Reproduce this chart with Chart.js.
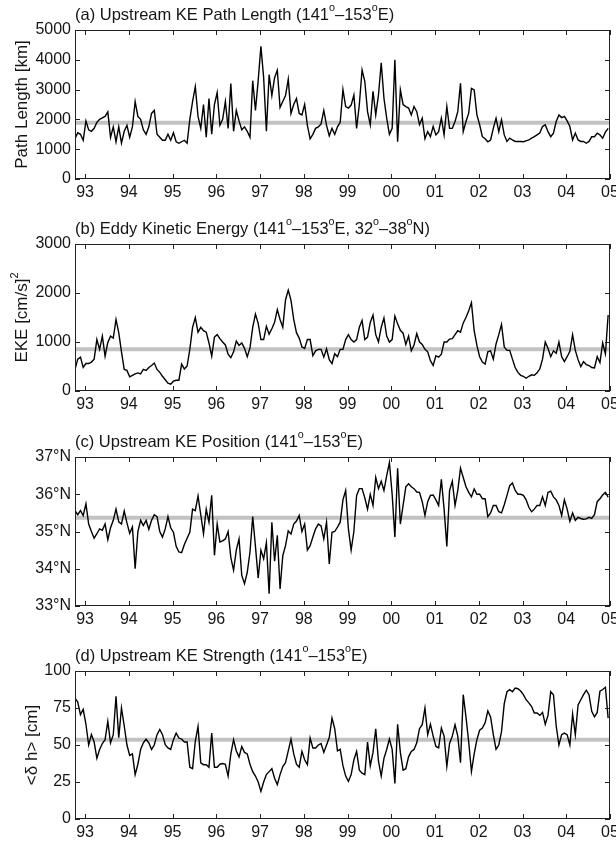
<!DOCTYPE html>
<html>
<head>
<meta charset="utf-8">
<script src="https://cdn.jsdelivr.net/npm/chart.js@4.4.1/dist/chart.umd.min.js"></script>
<style>
  body { margin: 0; background: #fff; width: 616px; height: 845px; overflow: hidden; position: relative; }
  canvas { position: absolute; left: 0; }
</style>
</head>
<body>
<canvas id="panelA" width="616" height="214" style="top:0px"></canvas>
<canvas id="panelB" width="616" height="213" style="top:214px"></canvas>
<canvas id="panelC" width="616" height="214" style="top:427px"></canvas>
<canvas id="panelD" width="616" height="204" style="top:641px"></canvas>
<script>
// time axis: samples every 1/16 year starting late 1992
const tStart = 1992.77
const tStep = 1 / 16
const xMin = 1992.77
const xMax = 2005.0

const yearTicks = [1993, 1994, 1995, 1996, 1997, 1998, 1999, 2000, 2001, 2002, 2003, 2004, 2005]
const yearLabels = ['93', '94', '95', '96', '97', '98', '99', '00', '01', '02', '03', '04', '05']

// (a) path length [km]
const pathLength = [
  1350, 1550, 1500, 1300, 1950, 1650, 1600, 1700, 1900, 2000, 2050, 2100, 2250, 1400, 1750, 1250,
  1750, 1200, 1600, 1800, 1400, 1750, 2600, 2100, 2000, 1650, 1500, 1750, 2200, 2300, 1500, 1400,
  1300, 1300, 1500, 1300, 1550, 1250, 1200, 1250, 1300, 1200, 2000, 2600, 3100, 2100, 1700, 2500,
  1400, 2700, 1500, 2500, 2900, 1800, 2000, 2600, 1700, 3200, 1600, 2300, 1950, 1650, 1750, 1600,
  1400, 3300, 2300, 3300, 4450, 3400, 1600, 3500, 2800, 3400, 3650, 2400, 2600, 2800, 3350, 2200,
  2500, 2700, 2200, 2150, 2500, 1800, 1350, 1500, 1700, 1750, 1850, 2300, 1800, 1450, 1700, 1500,
  1750, 1900,
  3000, 2430, 2380, 2480, 2820, 1700, 2500, 3660, 3270, 2260, 1820, 2940, 2150, 2820,
  3900, 2710, 2040, 1500, 1700, 4000, 1250, 2990, 2500, 2430, 2380, 2150, 2430, 2260, 1820, 2040,
  1350, 1590, 1420, 1760, 1480, 1590, 2040, 1480, 2430, 1700, 1700, 1930, 2260, 3210, 1590, 1930,
  2210, 3040, 2990, 2150, 1820, 1420, 1350, 1250, 1310, 1700, 2040, 1590, 1990, 1480, 1260, 1370,
  1310, 1260, 1260, 1260, 1250, 1280, 1310, 1370, 1420, 1480, 1540, 1760, 1820, 1590, 1420, 1540,
  1930, 2150, 2060, 2100, 1950, 1760, 1310, 1540, 1310, 1260, 1260, 1200, 1260, 1420, 1420, 1540,
  1480, 1370, 1570, 1700
]
const pathMean = 1890
const pathTicks = [0, 1000, 2000, 3000, 4000, 5000]

// (b) eddy kinetic energy [(cm/s)^2]
const eke = [
  440, 650, 690, 480, 560, 560, 590, 650, 1050, 850, 1120, 710, 990, 1120, 1080, 1460,
  1190, 800, 440, 420, 290, 320, 350, 370, 350, 440, 420, 480, 520, 570, 440, 380,
  300, 230, 160, 140, 200, 220, 220, 550, 450, 510, 850, 1300, 1500, 1200, 1300, 1230,
  1200, 980, 710, 1100, 1150, 1070, 1000, 940, 750, 680, 800, 1020, 930, 980, 870, 700,
  880, 1300, 1570, 1380, 1050, 1050, 1320, 1160, 1270, 1400, 1660, 1460, 1300, 1860, 2060, 1850,
  1460, 1190, 1080, 900, 870, 1050, 1050, 720, 820, 850, 850, 690, 860, 640, 560, 760,
  700, 850,
  850, 1050, 1150, 1050, 1000, 1050, 1300, 1440, 1050, 1100, 1400, 1550, 1150, 1000,
  1300, 1490, 1120, 1000, 1050, 1530, 1370, 1240, 1180, 950, 1120, 820, 940, 1170, 1000, 950,
  850, 800, 620, 520, 720, 690, 750, 1000, 1000, 1060, 1070, 1150, 1230, 1200, 1390, 1500,
  1640, 1800, 1230, 930, 700, 590, 550, 800, 820, 650, 960, 1150, 1360, 900, 830, 830,
  650, 480, 380, 320, 300, 260, 300, 330, 320, 370, 450, 650, 1000, 870, 700, 820,
  770, 1000, 700, 600, 700, 810, 1150, 830, 640, 500, 600, 540, 520, 480, 470, 700,
  580, 980, 760, 1550
]
const ekeMean = 850
const ekeTicks = [0, 1000, 2000, 3000]

// (c) upstream KE latitude [deg N]
const position = [
  35.56, 35.45, 35.56, 35.43, 35.74, 35.2, 35.0, 34.82, 34.94, 35.07, 35.03, 35.2, 34.78, 35.1, 35.3, 35.6,
  35.26, 35.2, 35.55, 35.23, 34.95, 35.12, 34.0, 35.0, 35.3, 35.16, 35.3, 35.06, 35.3, 35.45, 35.4, 35.0,
  34.85, 35.07, 35.4, 35.1, 34.98, 34.6, 34.45, 34.43, 34.65, 34.82, 34.98, 35.6, 35.56, 35.95, 35.45, 34.94,
  35.6, 35.25, 35.97, 34.36, 35.2, 34.72, 34.75, 34.8, 35.0, 34.3, 33.96, 34.5, 34.8, 33.82, 33.6, 33.9,
  34.45, 35.4, 34.6, 33.75, 34.5, 34.27, 34.7, 33.33, 35.25, 34.2, 34.9, 33.46, 34.35, 34.62, 35.02, 34.93,
  35.2, 35.28, 35.43, 35.0, 35.2, 34.5, 34.62, 34.85, 35.07, 35.2, 35.15, 34.8, 35.25, 34.13, 34.98, 35.0,
  35.12, 35.25,
  35.85, 36.1, 35.07, 34.5, 35.0, 35.97, 36.15, 36.15, 35.9, 35.6, 36.0, 35.7, 36.45, 36.15,
  36.35, 36.1, 36.5, 36.85, 36.0, 34.85, 36.7, 35.2, 35.7, 36.2, 36.28, 36.2, 36.15, 36.06, 36.05, 35.8,
  35.43, 35.8, 35.97, 35.98, 35.85, 35.7, 36.4, 35.6, 34.6, 36.1, 36.35, 35.7, 36.1, 36.7, 36.45, 36.2,
  36.05, 35.93, 36.14, 36.0, 36.0, 35.88, 35.88, 35.4, 35.5, 35.7, 35.7, 35.53, 35.5, 35.72, 35.97, 36.23,
  36.3, 36.1, 36.0, 36.0, 35.97, 35.85, 35.65, 35.53, 35.6, 35.7, 35.7, 35.93, 35.7, 36.05, 36.08, 35.93,
  35.85, 35.7, 35.43, 35.85, 35.6, 35.27, 35.5, 35.3, 35.38, 35.35, 35.33, 35.34, 35.38, 35.35, 35.45, 35.8,
  35.88, 35.98, 36.05, 35.92
]
const positionMean = 35.37
const latTicks = [33, 34, 35, 36, 37]
const latLabels = ['33°N', '34°N', '35°N', '36°N', '37°N']

// (d) upstream KE strength [cm]
const strength = [
  81.7, 79, 70.5, 74, 64, 50, 57, 52, 41, 47, 51, 53.6, 66, 51.5, 57, 82.9,
  55, 75, 63, 50, 43, 44, 30, 37, 47, 51.5, 54, 51.5, 47, 50, 57, 60.5,
  57, 50.2, 48, 47, 53.6, 58, 54.7, 54, 52, 52, 35, 34, 52.5, 62.5, 38, 36.7,
  36.7, 35, 58, 35, 35, 37, 37.5, 37, 29, 44, 53.6, 46, 42, 49, 45, 44,
  37, 32, 29, 25, 18.7, 25, 30, 32, 34, 27.5, 23.2, 30, 35.5, 38, 46, 54,
  44, 37, 35, 45.7, 40, 36.7, 54.7, 48, 48, 50, 51, 45, 50, 55, 68.2, 61,
  46, 47,
  36, 29, 25.4, 30, 40, 45.7, 33, 31, 30, 52, 36, 45, 61, 39,
  29, 41, 47, 54, 47, 24, 64, 45, 33, 34, 42, 45.7, 47, 51.5, 61, 63.7,
  75, 57, 64, 56, 49, 48, 61.5, 56, 35.6, 51, 56, 63.7, 56, 38, 84, 69,
  52, 32, 44, 53.6, 60, 61.5, 65, 73, 69, 57, 47, 50, 59, 78, 86, 87.4,
  86, 88.5, 88, 86.5, 84, 80.6, 78.5, 76, 71.6, 71.6, 70, 72, 64, 70, 86, 84,
  63, 50, 57, 58, 57, 50, 71, 57, 77, 80.6, 84, 87, 84, 72.7, 69, 72,
  86.3, 87.5, 89, 68.2
]
const strengthMean = 53.6
const strengthTicks = [0, 25, 50, 75, 100]

const FONT = '"Liberation Sans", Arial, Helvetica, sans-serif'
const TEXT = '#151515'

// draw text with raised small pieces (degree "o" and squared "2")
function drawRich (ctx, segs, x, y, size) {
  let cx = x
  for (const s of segs) {
    ctx.font = (s.sup ? size * 0.65 : size) + 'px ' + FONT
    ctx.fillText(s.t, cx, s.sup ? y - size * 0.4 : y)
    cx += ctx.measureText(s.t).width
  }
  return cx - x
}

function richWidth (ctx, segs, size) {
  let w = 0
  for (const s of segs) {
    ctx.font = (s.sup ? size * 0.65 : size) + 'px ' + FONT
    w += ctx.measureText(s.t).width
  }
  return w
}

function framePlugin (title, ylabel, ylabelX) {
  return {
    id: 'frame',
    afterDatasetsDraw (chart) {
      const { ctx, chartArea: a, scales } = chart
      ctx.save()
      ctx.strokeStyle = '#222'
      ctx.lineWidth = 1
      ctx.strokeRect(a.left + 0.5, a.top + 0.5, a.right - a.left - 1, a.bottom - a.top - 1)
      ctx.beginPath()
      for (const v of yearTicks) {
        const px = Math.round(scales.x.getPixelForValue(v)) + 0.5
        ctx.moveTo(px, a.bottom); ctx.lineTo(px, a.bottom - 5)
        ctx.moveTo(px, a.top); ctx.lineTo(px, a.top + 5)
      }
      for (const t of scales.y.ticks) {
        const py = Math.round(scales.y.getPixelForValue(t.value)) + 0.5
        ctx.moveTo(a.left, py); ctx.lineTo(a.left + 5, py)
        ctx.moveTo(a.right, py); ctx.lineTo(a.right - 5, py)
      }
      ctx.stroke()
      ctx.restore()
    },
    afterDraw (chart) {
      const { ctx, chartArea: a } = chart
      ctx.save()
      ctx.fillStyle = TEXT
      ctx.textBaseline = 'middle'
      ctx.textAlign = 'left'
      drawRich(ctx, title, a.left, a.top - 15, 16.5)
      if (ylabel) {
        ctx.translate(ylabelX, (a.top + a.bottom) / 2)
        ctx.rotate(-Math.PI / 2)
        const w = richWidth(ctx, ylabel, 17)
        drawRich(ctx, ylabel, -w / 2, 0, 17)
      }
      ctx.restore()
    }
  }
}

function makePanel (id, values, mean, yMin, yMax, ticks, labels, xHeight, title, ylabel, ylabelX) {
  const pts = values.map((v, i) => ({ x: tStart + i * tStep, y: v }))
  new Chart(document.getElementById(id), {
    type: 'line',
    data: {
      datasets: [
        { data: pts, borderColor: '#000', borderWidth: 1.4, pointRadius: 0, tension: 0, order: 0 },
        { data: [{ x: xMin, y: mean }, { x: xMax, y: mean }], borderColor: '#c2c2c2', borderWidth: 4, pointRadius: 0, order: 1 }
      ]
    },
    options: {
      responsive: false,
      animation: false,
      devicePixelRatio: 1,
      layout: { padding: { top: 30, right: 6, left: 0, bottom: 0 } },
      plugins: { legend: { display: false }, tooltip: { enabled: false } },
      scales: {
        x: {
          type: 'linear',
          min: xMin,
          max: xMax,
          afterBuildTicks: s => { s.ticks = yearTicks.map(v => ({ value: v })) },
          afterFit: s => { s.height = xHeight; s.paddingLeft = 0; s.paddingRight = 0 },
          grid: { display: false, drawTicks: false },
          border: { display: false },
          ticks: {
            autoSkip: false,
            maxRotation: 0,
            padding: 4,
            color: TEXT,
            font: { family: FONT, size: 16 },
            callback: v => labels.x[yearTicks.indexOf(v)]
          }
        },
        y: {
          min: yMin,
          max: yMax,
          afterBuildTicks: s => { s.ticks = ticks.map(v => ({ value: v })) },
          afterFit: s => { s.width = 75; s.paddingTop = 0; s.paddingBottom = 0 },
          grid: { display: false, drawTicks: false },
          border: { display: false },
          ticks: {
            autoSkip: false,
            padding: 4,
            color: TEXT,
            font: { family: FONT, size: 16 },
            callback: v => labels.y[ticks.indexOf(v)]
          }
        }
      }
    },
    plugins: [framePlugin(title, ylabel, ylabelX)]
  })
}

const deg = [{ t: 'o', sup: true }]

makePanel('panelA', pathLength, pathMean, 0, 5000, pathTicks,
  { x: yearLabels, y: pathTicks.map(String) }, 35,
  [{ t: '(a) Upstream KE Path Length (141' }, ...deg, { t: '\u2013153' }, ...deg, { t: 'E)' }],
  [{ t: 'Path Length [km]' }], 22)

makePanel('panelB', eke, ekeMean, 0, 3000, ekeTicks,
  { x: yearLabels, y: ekeTicks.map(String) }, 36,
  [{ t: '(b) Eddy Kinetic Energy (141' }, ...deg, { t: '\u2013153' }, ...deg, { t: 'E, 32' }, ...deg, { t: '\u201338' }, ...deg, { t: 'N)' }],
  [{ t: 'EKE [cm/s]' }, { t: '2', sup: true }], 22)

makePanel('panelC', position, positionMean, 33, 37, latTicks,
  { x: yearLabels, y: latLabels }, 35,
  [{ t: '(c) Upstream KE Position (141' }, ...deg, { t: '\u2013153' }, ...deg, { t: 'E)' }],
  null, 0)

makePanel('panelD', strength, strengthMean, 0, 100, strengthTicks,
  { x: yearLabels, y: strengthTicks.map(String) }, 26,
  [{ t: '(d) Upstream KE Strength (141' }, ...deg, { t: '\u2013153' }, ...deg, { t: 'E)' }],
  [{ t: '<\u03b4 h> [cm]' }], 32)
</script>
</body>
</html>
